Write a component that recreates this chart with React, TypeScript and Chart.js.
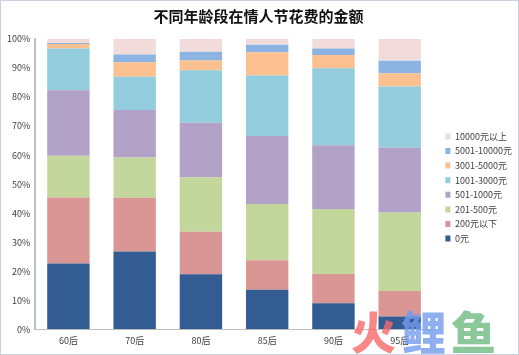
import React, { useEffect, useRef } from "react";
import { Chart, registerables } from "chart.js";

Chart.register(...registerables);

const categories = ["60后", "70后", "80后", "85后", "90后", "95后"];
const seriesNames = ["0元", "200元以下", "201-500元", "501-1000元", "1001-3000元", "3001-5000元", "5001-10000元", "10000元以上"];
const s0 = [22.6, 26.8, 18.9, 13.6, 8.9, 4.4];
const s200 = [22.8, 18.5, 14.7, 10.2, 10.1, 8.8];
const s500 = [14.4, 13.9, 18.8, 19.3, 22.4, 27.0];
const s1000 = [22.5, 16.3, 18.7, 23.5, 22.0, 22.4];
const s3000 = [14.4, 11.5, 18.1, 20.8, 26.5, 21.0];
const s5000 = [1.6, 5.0, 3.4, 8.0, 4.6, 4.6];
const s10000 = [0.3, 2.7, 3.0, 2.6, 2.2, 4.3];
const sAbove = [1.4, 5.3, 4.4, 2.0, 3.3, 7.5];
const yTicks = [0, 10, 20, 30, 40, 50, 60, 70, 80, 90, 100];
const colors = ["#335C92", "#D99694", "#C3D69B", "#B2A2C7", "#93CDDD", "#FAC090", "#8DB3E2", "#F2DCDB"];
const watermarkChars = ["火", "鲤", "鱼"];
const watermarkColors = ["rgba(248,105,105,0.8)", "rgba(115,155,238,0.8)", "rgba(110,188,130,0.8)"];

const legendShift = {
  id: "legendShift",
  afterLayout(chart: any) {
    const lg = chart.legend;
    if (!lg) return;
    lg.left += 7;
    lg.right += 7;
    lg.top += 10;
    lg.bottom += 10;
  },
};

export default function App() {
  const ref = useRef<HTMLCanvasElement | null>(null);
  useEffect(() => {
    if (!ref.current) return;
    const all = [s0, s200, s500, s1000, s3000, s5000, s10000, sAbove];
    const font = "'Noto Sans CJK SC', 'Noto Sans', sans-serif";
    const chart = new Chart(ref.current, {
      type: "bar",
      plugins: [legendShift],
      data: {
        labels: categories,
        datasets: all.map((d, i) => ({
          label: seriesNames[i],
          data: d,
          backgroundColor: colors[i],
          borderWidth: 0,
          categoryPercentage: 1,
          barPercentage: 0.64,
        })),
      },
      options: {
        animation: false,
        responsive: true,
        maintainAspectRatio: false,
        layout: { padding: { left: 1, right: 3, top: 2, bottom: 2 } },
        plugins: {
          title: {
            display: true,
            text: "不同年龄段在情人节花费的金额",
            color: "#111",
            font: { family: font, size: 15, weight: "bold" },
            padding: { top: 4, bottom: 14 },
          },
          legend: {
            position: "right",
            reverse: true,
            labels: {
              boxWidth: 5,
              boxHeight: 6,
              padding: 5.6,
              color: "#404040",
              font: { family: font, size: 9 },
            },
          },
          tooltip: { enabled: false },
        },
        scales: {
          x: {
            stacked: true,
            grid: { display: false, drawTicks: false },
            border: { display: true, color: "#BFBFBF", width: 1 },
            ticks: { color: "#404040", font: { family: font, size: 9 }, padding: 6 },
          },
          y: {
            stacked: true,
            min: 0,
            max: 100,
            afterBuildTicks: (axis: any) => {
              axis.ticks = yTicks.map((v) => ({ value: v }));
            },
            grid: { display: false, drawTicks: false },
            border: { display: true, color: "#BFBFBF", width: 2 },
            ticks: {
              color: "#404040",
              font: { family: font, size: 9 },
              padding: 5,
              callback: (v: any) => v + "%",
            },
          },
        },
      },
    });
    return () => chart.destroy();
  }, []);
  const wmLeft = [350, 400, 450];
  return (
    <div style={{ position: "absolute", left: 0, top: 0, width: 519, height: 355, boxSizing: "border-box", border: "1px solid #C9D2DE", background: "#fff", overflow: "hidden" }}>
      <div style={{ position: "relative", width: 517, height: 353 }}>
        <canvas ref={ref} />
      </div>
      {watermarkChars.map((c, i) => (
        <div key={c} style={{ position: "absolute", left: wmLeft[i], top: 305, fontFamily: "'Noto Sans CJK SC', sans-serif", fontWeight: 900, fontSize: 45, lineHeight: "50px", color: watermarkColors[i], pointerEvents: "none", whiteSpace: "nowrap" }}>
          {c}
        </div>
      ))}
    </div>
  );
}
